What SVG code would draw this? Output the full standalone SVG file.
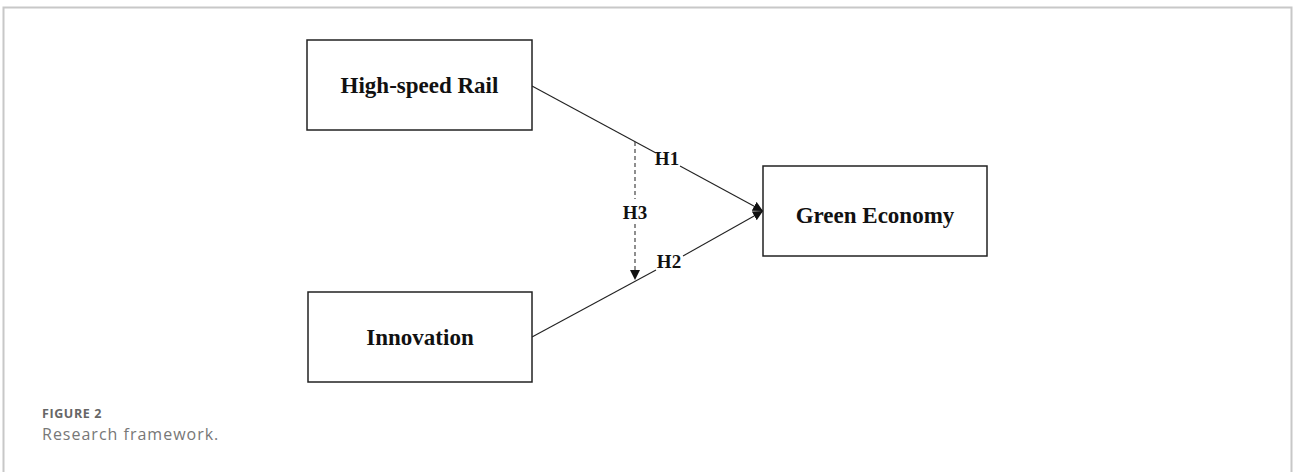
<svg xmlns="http://www.w3.org/2000/svg" width="1293" height="472" viewBox="0 0 1293 472">
<style>
.box{fill:#fff;stroke:#222;stroke-width:1.5}
.lbl{font-family:"Liberation Serif","Times New Roman",serif;font-weight:bold;font-size:23px;fill:#111;text-anchor:middle}
.h{font-family:"Liberation Serif","Times New Roman",serif;font-weight:bold;font-size:19px;fill:#111;text-anchor:middle}
.ln{stroke:#222;stroke-width:1.1;fill:none}
.dash{stroke:#333;stroke-width:1.1;fill:none;stroke-dasharray:4,3}
</style>
<defs>
<marker id="ah" viewBox="0 0 10 10" refX="10" refY="5" markerWidth="10" markerHeight="10" markerUnits="userSpaceOnUse" orient="auto">
<path d="M0,0 L10,5 L0,10 z" fill="#111"/>
</marker>
</defs>
<rect x="0" y="0" width="1293" height="472" fill="#fff"/>
<path d="M3.5,480 V7.5 H1291.5 V480" fill="none" stroke="#c8c8c8" stroke-width="2"/>
<g id="connectors">
<path class="ln" d="M532,86 L656,153"/>
<path class="ln" d="M680,166 L763,211" marker-end="url(#ah)"/>
<path class="ln" d="M532,337 L656,270"/>
<path class="ln" d="M683,256 L763,211" marker-end="url(#ah)"/>
<path class="dash" d="M635,142 V199"/>
<path class="dash" d="M635,224 V280" marker-end="url(#ah)"/>
<text class="h" x="667" y="165">H1</text>
<text class="h" x="635" y="219">H3</text>
<text class="h" x="669" y="268">H2</text>
</g>
<g id="hsr">
<rect class="box" x="307" y="40" width="225" height="90"/>
<text class="lbl" x="419.5" y="93">High-speed Rail</text>
</g>
<g id="green">
<rect class="box" x="763" y="166" width="224" height="90"/>
<text class="lbl" x="875" y="223">Green Economy</text>
</g>
<g id="innovation">
<rect class="box" x="308" y="292" width="224" height="90"/>
<text class="lbl" x="420" y="345">Innovation</text>
</g>
<g id="caption">
<text x="42" y="418" font-family="'Open Sans',sans-serif" font-weight="bold" font-size="12.5px" letter-spacing="0.6" fill="#666">FIGURE 2</text>
<text x="42" y="440" font-family="'Open Sans',sans-serif" font-size="16px" letter-spacing="1" fill="#777">Research framework.</text>
</g>
</svg>
